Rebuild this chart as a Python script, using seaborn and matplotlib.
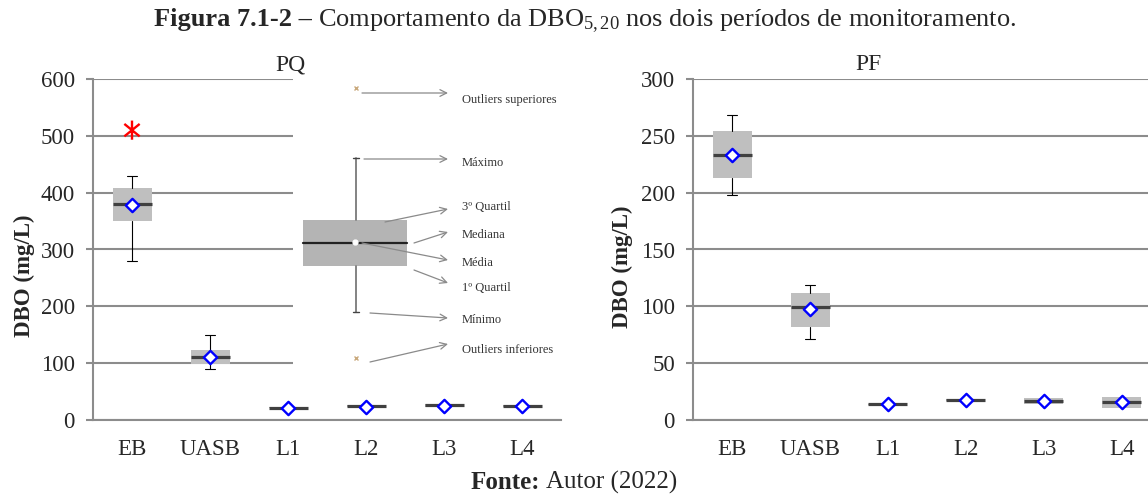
import numpy as np
import matplotlib
matplotlib.use("Agg")
import matplotlib.pyplot as plt
from matplotlib.patches import Rectangle
from matplotlib.path import Path
import seaborn as sns

categories = ["EB", "UASB", "L1", "L2", "L3", "L4"]

# PQ period (mg/L): box-plot summary
pq_whislo = [280, 89, 20.5, 23.5, 22, 23.5]
pq_q1 = [350, 98.5, 20.5, 23.5, 22, 23.5]
pq_med = [380, 110, 21.6, 24.6, 26.4, 25]
pq_q3 = [409, 123, 23, 26, 27.5, 26.5]
pq_whishi = [430, 149, 23, 26, 27.5, 26.5]
pq_mean = [378, 111.5, 21, 23.5, 24.5, 24]
pq_outlier_cat = ["EB"]
pq_outlier_val = [510]

# PF period (mg/L)
pf_whislo = [198, 71, 13, 17, 13.8, 10.8]
pf_q1 = [212.5, 82, 13, 17, 13.8, 10.8]
pf_med = [233, 99.4, 13.8, 17.6, 16.7, 15.5]
pf_q3 = [254, 112, 14.5, 18.5, 19.6, 20.5]
pf_whishi = [268, 118.5, 14.5, 18.5, 19.6, 20.5]
pf_mean = [233, 97.4, 14, 18, 17, 16]

W, H = 1148, 494
GRAY = "#8c8c8c"
TICK_SIZE = 16.5

# asterisk like the spreadsheet marker: vertical bar + X
STAR = Path([(0, -1), (0, 1), (-0.8, -0.65), (0.8, 0.65), (-0.8, 0.65), (0.8, -0.65)],
            [Path.MOVETO, Path.LINETO] * 3)

sns.set_theme(style="white")
plt.rcParams["font.family"] = ["Liberation Serif", "DejaVu Serif"]
plt.rcParams["mathtext.fontset"] = "custom"
plt.rcParams["mathtext.rm"] = "Liberation Serif"
plt.rcParams["mathtext.it"] = "Liberation Serif:italic"
plt.rcParams["mathtext.bf"] = "Liberation Serif:bold"

fig = plt.figure(figsize=(W / 100, H / 100), dpi=100)


def px_box(x0, y0, x1, y1):
    # pixel box (top-left origin) -> figure fraction rect
    return [x0 / W, 1 - y1 / H, (x1 - x0) / W, (y1 - y0) / H]


def draw_panel(ax, whislo, q1, med, q3, whishi, mean, ymax, step, out_cat=(), out_val=()):
    pos = np.arange(len(categories))
    stats = [dict(whislo=a, q1=b, med=c, q3=d, whishi=e, fliers=[])
             for a, b, c, d, e in zip(whislo, q1, med, q3, whishi)]
    res = ax.bxp(stats, positions=pos, widths=0.5, patch_artist=True, showfliers=False,
                 boxprops=dict(facecolor="#bfbfbf", edgecolor="none", linewidth=0),
                 medianprops=dict(color="#404040", linewidth=2.3, solid_capstyle="butt"),
                 whiskerprops=dict(color="black", linewidth=0.8),
                 capprops=dict(color="black", linewidth=0.8),
                 capwidths=0.12, manage_ticks=False, zorder=3)
    # no caps where the whisker has no length
    for i, st in enumerate(stats):
        if st["whislo"] == st["q1"]:
            res["caps"][2 * i].set_visible(False)
        if st["whishi"] == st["q3"]:
            res["caps"][2 * i + 1].set_visible(False)

    sns.scatterplot(x=pos, y=mean, marker="D", s=46, color="white", edgecolor="#0000ff",
                    linewidth=1.7, zorder=5, ax=ax, legend=False)
    if len(out_cat):
        ox = [categories.index(c) for c in out_cat]
        sns.scatterplot(x=ox, y=out_val, marker=STAR, s=190, facecolor="none",
                        edgecolor="#ff0000", linewidth=1.7, zorder=5, ax=ax, legend=False)

    ax.set_xlim(-0.5, len(categories) - 0.5)
    ax.set_ylim(0, ymax)
    ax.set_xticks(pos)
    ax.set_xticklabels(categories)
    ax.set_xticks(np.arange(-0.5, len(categories), 1), minor=True)
    ax.set_yticks(np.arange(0, ymax + 1, step))
    ax.tick_params(axis="x", which="major", length=0, pad=14, labelsize=TICK_SIZE)
    ax.tick_params(axis="x", which="minor", length=5, width=1.5, color=GRAY, direction="out")
    ax.tick_params(axis="y", length=5, width=1.5, color=GRAY, direction="out", pad=8,
                   labelsize=TICK_SIZE, left=True)
    ax.yaxis.grid(True, color=GRAY, linewidth=1.5)
    ax.set_axisbelow(True)
    sns.despine(ax=ax)
    for side in ("left", "bottom"):
        ax.spines[side].set_color(GRAY)
        ax.spines[side].set_linewidth(1.5)
    ax.set_xlabel("")
    ax.set_ylabel("DBO (mg/L)", fontsize=16.5, fontweight="bold")


ax1 = fig.add_axes(px_box(93, 79, 561, 420))
draw_panel(ax1, pq_whislo, pq_q1, pq_med, pq_q3, pq_whishi, pq_mean, 600, 100,
           pq_outlier_cat, pq_outlier_val)
ax1.yaxis.set_label_coords((35 - 93) / 468, (420 - 276) / 341)

ax2 = fig.add_axes(px_box(693, 79, 1161, 420))
draw_panel(ax2, pf_whislo, pf_q1, pf_med, pf_q3, pf_whishi, pf_mean, 300, 50)
ax2.yaxis.set_label_coords((633 - 693) / 468, (420 - 267) / 341)

fig.text(290 / W, 1 - 70 / H, "PQ", fontsize=17, ha="center", va="baseline")
fig.text(868 / W, 1 - 70 / H, "PF", fontsize=17, ha="center", va="baseline")

# explanatory box-plot legend (pasted schematic in the original)
axi = fig.add_axes(px_box(293, 72, 566, 385))
axi.set_xlim(293, 566)
axi.set_ylim(385, 72)
axi.set_xticks([])
axi.set_yticks([])
for s in axi.spines.values():
    s.set_visible(False)
axi.add_patch(Rectangle((303, 220), 104, 46, facecolor="#b4b4b4", edgecolor="none"))
axi.plot([303, 407], [243, 243], color="#222222", lw=1.6)
axi.plot([356, 356], [158, 220], color="#7a7a7a", lw=1.3)
axi.plot([356, 356], [266, 312], color="#7a7a7a", lw=1.3)
axi.plot([353, 359], [158, 158], color="#444444", lw=1)
axi.plot([353, 359], [312, 312], color="#444444", lw=1)
axi.plot([355], [242], marker="o", ms=3.5, color="white")
axi.plot([356, 356], [88, 358], ls="none", marker="x", ms=3.5, mew=1, color="#c9a97c")

legend_items = [
    ("Outliers superiores", (362, 93), (448, 93), 100),
    ("Máximo", (364, 159), (448, 159), 163),
    ("3º Quartil", (385, 222), (448, 209), 207),
    ("Mediana", (414, 243), (448, 232), 235),
    ("Média", (362, 243), (448, 260), 263),
    ("1º Quartil", (414, 270), (448, 283), 288),
    ("Mínimo", (370, 313), (448, 318), 320),
    ("Outliers inferiores", (370, 362), (448, 344), 350),
]
for label, start, end, ty in legend_items:
    axi.annotate("", xy=end, xytext=start,
                 arrowprops=dict(arrowstyle="->", color="#8a8a8a", lw=0.9,
                                 mutation_scale=12, shrinkA=0, shrinkB=0))
    axi.text(462, ty, label, fontsize=9, color="#333333", va="center", ha="left")


def rich_line(parts, xc, y_px, size):
    texts = [fig.text(0, 1 - y_px / H, s, fontsize=size, fontweight=w,
                      ha="left", va="baseline") for s, w in parts]
    r = fig.canvas.get_renderer()
    widths = [t.get_window_extent(r).width for t in texts]
    gap = 0.25 * size * 100 / 72
    total = sum(widths) + gap * (len(texts) - 1)
    x = xc - total / 2
    for t, w in zip(texts, widths):
        t.set_x(x / W)
        x += w + gap


rich_line([("Figura 7.1-2 –", "bold"),
           ("Comportamento da DBO$_{5,20}$ nos dois períodos de monitoramento.", "normal")],
          585, 26, 19)
rich_line([("Fonte:", "bold"), ("Autor (2022)", "normal")], 574, 489, 18)

fig.savefig("out.png", dpi=100)
